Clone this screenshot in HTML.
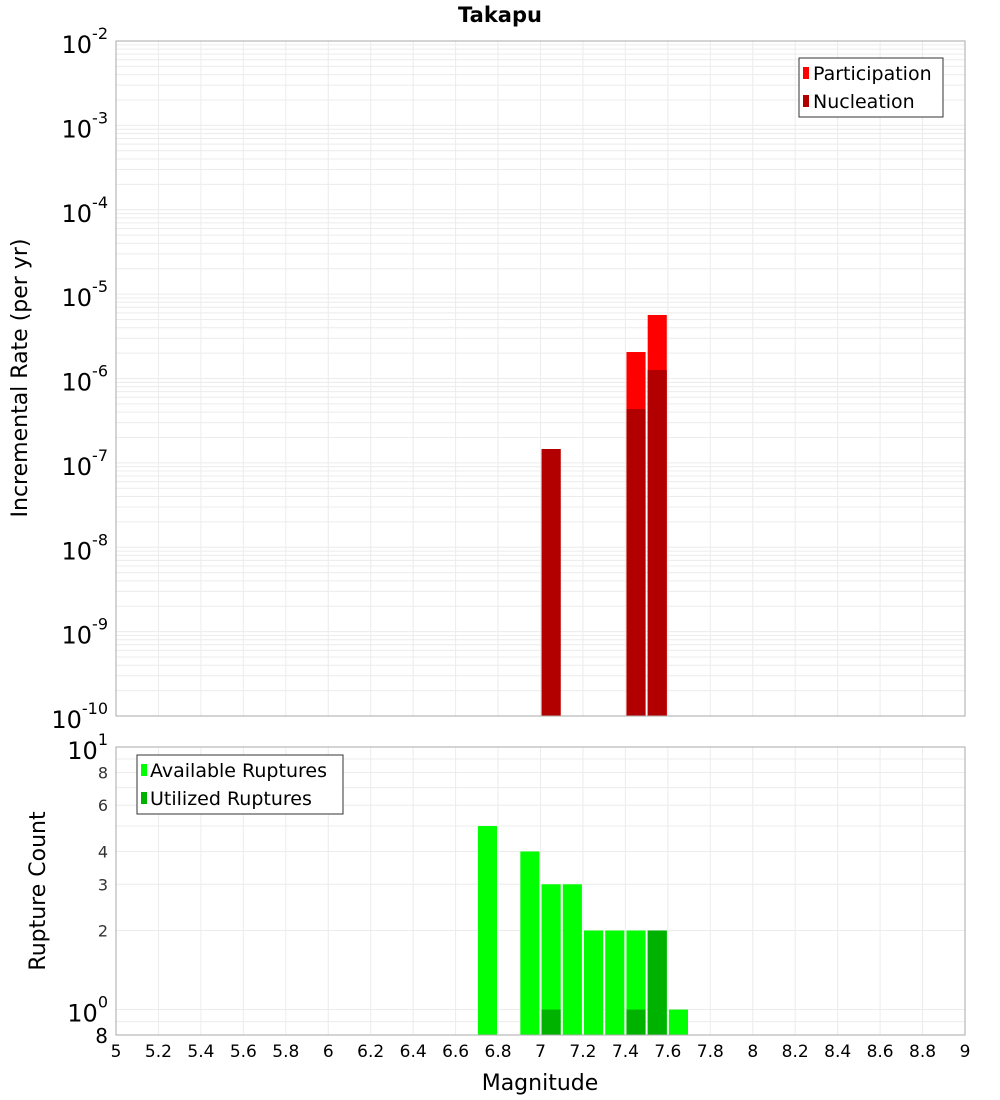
<!DOCTYPE html>
<html><head><meta charset="utf-8"><style>
body{margin:0;background:#fff;}
svg{display:block;font-family:"Liberation Sans","DejaVu Sans",sans-serif;}
</style></head><body>
<svg id="chart" width="1000" height="1100" xmlns="http://www.w3.org/2000/svg">
<text x="500" y="22" text-anchor="middle" font-size="21" font-weight="bold" font-family="DejaVu Sans, sans-serif">Takapu</text>
<g id="top"></g><g id="bot"></g>
</svg>
<script>
const mags = [6.75, 6.95, 7.05, 7.15, 7.25, 7.35, 7.45, 7.55, 7.65];
const partRates = [0, 0, 1.46e-7, 0, 0, 0, 2.06e-6, 5.66e-6, 0];
const nuclRates = [0, 0, 1.46e-7, 0, 0, 0, 4.35e-7, 1.26e-6, 0];
const availCount = [5, 4, 3, 3, 2, 2, 2, 2, 1];
const usedCount = [0, 0, 1, 0, 0, 0, 1, 2, 0];
const xTicks = [5,5.2,5.4,5.6,5.8,6,6.2,6.4,6.6,6.8,7,7.2,7.4,7.6,7.8,8,8.2,8.4,8.6,8.8,9];
const topExps = [-2,-3,-4,-5,-6,-7,-8,-9,-10];
const botTickVals = [2,3,4,6,8];

const NS="http://www.w3.org/2000/svg";
const X0=116,X1=965;
const x=v=>X0+(v-5)/4*(X1-X0);
const TY0=41,TY1=716;
const yTop=v=>TY0+(-2-Math.log10(v))/8*(TY1-TY0);
const BY0=747,BY1=1035,BMIN=Math.log10(0.8);
const yBot=v=>BY0+(1-Math.log10(v))/(1-BMIN)*(BY1-BY0);
function mk(parent,tag,attrs,txt){const e=document.createElementNS(NS,tag);for(const k in attrs)e.setAttribute(k,attrs[k]);if(txt!==undefined)e.textContent=txt;parent.appendChild(e);return e;}
const T=document.getElementById('top'),B=document.getElementById('bot');
const FF="DejaVu Sans, sans-serif";

// top grid
for(let d=-10;d<-2;d++){for(let m=1;m<10;m++){const yy=yTop(m*Math.pow(10,d));const l=mk(T,'line',{x1:X0,x2:X1,y1:yy,y2:yy,stroke:'#ececec','stroke-width':1});
}}
for(const t of xTicks){const l=mk(T,'line',{x1:x(t),x2:x(t),y1:TY0,y2:TY1,stroke:'#ececec'});}
// top bars
const bw=(X1-X0)/4*0.09;
mags.forEach((m,i)=>{
 if(partRates[i]>0){const r=mk(T,'rect',{x:x(m)-bw/2,y:yTop(partRates[i]),width:bw,height:TY1-yTop(partRates[i]),fill:'#ff0000'});
 }
 if(nuclRates[i]>0){const r=mk(T,'rect',{x:x(m)-bw/2,y:yTop(nuclRates[i]),width:bw,height:TY1-yTop(nuclRates[i]),fill:'#b20000'});
 }
});
mk(T,'rect',{x:X0,y:TY0,width:X1-X0,height:TY1-TY0,fill:'none',stroke:'#aaa'});
for(const e of topExps){const yy=yTop(Math.pow(10,e));const t=mk(T,'text',{x:108,y:yy+12,'text-anchor':'end','font-size':24,'font-family':FF});

mk(t,'tspan',{},'10');mk(t,'tspan',{dy:-14,'font-size':16},String(e));}
const yt=mk(T,'text',{x:27,y:378,'text-anchor':'middle','font-size':22,'font-family':FF,transform:'rotate(-90 27 378)'},'Incremental Rate (per yr)');

// legend top
const lg=mk(T,'g',{});
mk(lg,'rect',{x:799,y:58,width:144,height:59,fill:'#fff',stroke:'#333'});
mk(lg,'rect',{x:803,y:67,width:6,height:12,fill:'#ff0000'});
mk(lg,'text',{x:813,y:80,'font-size':19,'font-family':FF},'Participation');
mk(lg,'rect',{x:803,y:95,width:6,height:12,fill:'#b20000'});
mk(lg,'text',{x:813,y:108,'font-size':19,'font-family':FF},'Nucleation');

// bottom grid
for(const v of [0.9,1,2,3,4,5,6,7,8,9]){const yy=yBot(v);const l=mk(B,'line',{x1:X0,x2:X1,y1:yy,y2:yy,stroke:'#ececec'});}
for(const t of xTicks){const l=mk(B,'line',{x1:x(t),x2:x(t),y1:BY0,y2:BY1,stroke:'#ececec'});}
mags.forEach((m,i)=>{
 if(availCount[i]>0){const r=mk(B,'rect',{x:x(m)-bw/2,y:yBot(availCount[i]),width:bw,height:BY1-yBot(availCount[i]),fill:'#00ff00'});
 }
 if(usedCount[i]>0){const r=mk(B,'rect',{x:x(m)-bw/2,y:yBot(usedCount[i]),width:bw,height:BY1-yBot(usedCount[i]),fill:'#00b200'});
 }
});
mk(B,'rect',{x:X0,y:BY0,width:X1-X0,height:BY1-BY0,fill:'none',stroke:'#aaa'});
for(const v of botTickVals){const t=mk(B,'text',{x:108,y:yBot(v)+6,'text-anchor':'end','font-size':16,'font-family':FF,fill:'#333'},String(v));
}
[[1,'0'],[10,'1']].forEach(([v,e])=>{const t=mk(B,'text',{x:108,y:yBot(v)+12,'text-anchor':'end','font-size':24,'font-family':FF});

mk(t,'tspan',{},'10');mk(t,'tspan',{dy:-14,'font-size':16},e);});
const t8=mk(B,'text',{x:108,y:BY1+8,'text-anchor':'end','font-size':20,'font-family':FF},'8');

const yt2=mk(B,'text',{x:45,y:891,'text-anchor':'middle','font-size':22,'font-family':FF,transform:'rotate(-90 45 891)'},'Rupture Count');

const lg2=mk(B,'g',{});
mk(lg2,'rect',{x:137,y:755,width:206,height:59,fill:'#fff',stroke:'#333'});
mk(lg2,'rect',{x:141,y:764,width:6,height:12,fill:'#00ff00'});
mk(lg2,'text',{x:150,y:777,'font-size':19,'font-family':FF},'Available Ruptures');
mk(lg2,'rect',{x:141,y:792,width:6,height:12,fill:'#00b200'});
mk(lg2,'text',{x:150,y:805,'font-size':19,'font-family':FF},'Utilized Ruptures');
for(const t of xTicks){const s=mk(B,'text',{x:x(t),y:1057,'text-anchor':'middle','font-size':17,'font-family':FF},String(t));
}
const xt=mk(B,'text',{x:540,y:1090,'text-anchor':'middle','font-size':22,'font-family':FF},'Magnitude');

</script>
</body></html>
